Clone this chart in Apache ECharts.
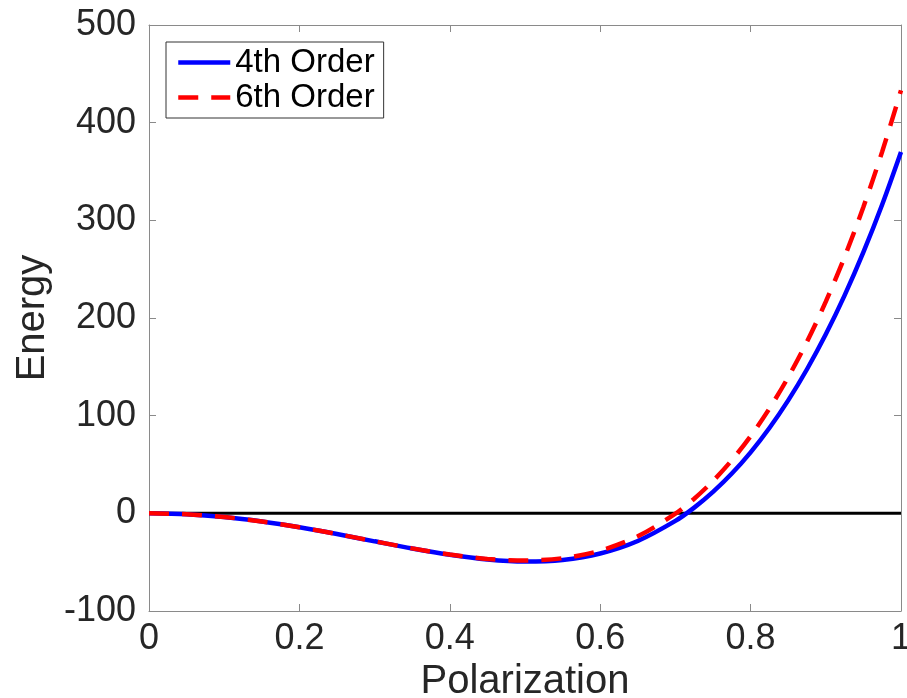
<!DOCTYPE html>
<html><head><meta charset="utf-8">
<script src="https://cdn.jsdelivr.net/npm/echarts@6/dist/echarts.min.js"></script>
<style>html,body{margin:0;padding:0;background:#fff}#c{width:907px;height:698px}</style>
</head><body><div id="c"></div>
<script>
const polarization = [0,0.05,0.1,0.15,0.2,0.25,0.3,0.35,0.4,0.45,0.5,0.55,0.6,0.65,0.7,0.725,0.75,0.775,0.8,0.825,0.85,0.875,0.9,0.925,0.95,0.975,1];
const order4 = [0,-0.96,-3.79,-8.32,-14.25,-21.21,-28.67,-36.00,-42.49,-47.26,-49.36,-47.71,-41.12,-28.27,-7.77,5.83,21.93,40.74,62.48,87.36,115.64,147.52,183.26,223.12,267.35,316.22,370];
const order6 = [0,-0.96,-3.79,-8.32,-14.25,-21.20,-28.62,-35.88,-42.23,-46.74,-48.38,-45.96,-38.18,-23.52,-0.36,14.98,33.14,54.39,78.99,107.22,139.40,175.79,216.74,262.58,313.66,370.34,433];
const zeroLine = [[0,0],[1,0]];
const seriesNames = ['4th Order','6th Order'];

const pair = (xs, ys) => xs.map((x,i)=>[x, ys[i]]);
const font = 'Liberation Sans, Arial, Helvetica, sans-serif';
const txt = '#262626';
const axisGray = '#8a8a8a';

const chart = echarts.init(document.getElementById('c'), null, {renderer:'canvas'});
chart.setOption({
  animation:false,
  backgroundColor:'#fff',
  grid:{left:149,right:6,top:25,bottom:87,containLabel:false,outerBoundsMode:'none'},
  legend:{
    show:true,
    data:seriesNames,
    orient:'vertical', left:166, top:42,
    padding:[4,9,4,10], itemGap:2,
    itemWidth:52, itemHeight:14,
    itemStyle:{opacity:0},
    lineStyle:{width:4.5},
    borderColor:'#333', borderWidth:1, backgroundColor:'#fff',
    textStyle:{fontFamily:font, fontSize:33, color:'#000'}
  },
  xAxis:[{
    type:'value', min:0, max:1, interval:0.2,
    axisLine:{show:true, onZero:false, lineStyle:{color:axisGray,width:1}},
    axisTick:{show:true, inside:true, length:7, lineStyle:{color:axisGray}},
    splitLine:{show:false},
    axisLabel:{fontFamily:font, fontSize:36, color:txt, margin:10,
      formatter:v=>String(Math.round(v*10)/10)},
    name:'Polarization', nameLocation:'middle', nameGap:50,
    nameTextStyle:{fontFamily:font, fontSize:40, color:txt, verticalAlign:'top'}
  },{
    type:'value', min:0, max:1, interval:0.2, position:'top',
    axisLine:{show:true, onZero:false, lineStyle:{color:axisGray,width:1}},
    axisTick:{show:true, inside:true, length:7, lineStyle:{color:axisGray}},
    axisLabel:{show:false}, splitLine:{show:false}
  }],
  yAxis:[{
    type:'value', min:-100, max:500, interval:100,
    axisLine:{show:true, onZero:false, lineStyle:{color:axisGray,width:1}},
    axisTick:{show:true, inside:true, length:7, lineStyle:{color:axisGray}},
    splitLine:{show:false},
    axisLabel:{fontFamily:font, fontSize:36, color:txt, margin:13},
    name:'Energy', nameLocation:'middle', nameGap:95, nameRotate:90,
    nameTextStyle:{fontFamily:font, fontSize:40, color:txt}
  },{
    type:'value', min:-100, max:500, interval:100, position:'right',
    axisLine:{show:true, onZero:false, lineStyle:{color:axisGray,width:1}},
    axisTick:{show:true, inside:true, length:7, lineStyle:{color:axisGray}},
    axisLabel:{show:false}, splitLine:{show:false}
  }],
  series:[
    {type:'line', name:'zero', data:zeroLine, symbol:'none', silent:true,
     lineStyle:{color:'#000', width:3}, z:1},
    {type:'line', name:seriesNames[0], data:pair(polarization, order4), symbol:'none', smooth:0.3,
     color:'#0000ff', lineStyle:{color:'#0000ff', width:4.5}, z:2},
    {type:'line', name:seriesNames[1], data:pair(polarization, order6), symbol:'none', smooth:0.3,
     color:'#ff0000', lineStyle:{color:'#ff0000', width:4.5, type:[20,13]}, z:3}
  ]
});
</script></body></html>
